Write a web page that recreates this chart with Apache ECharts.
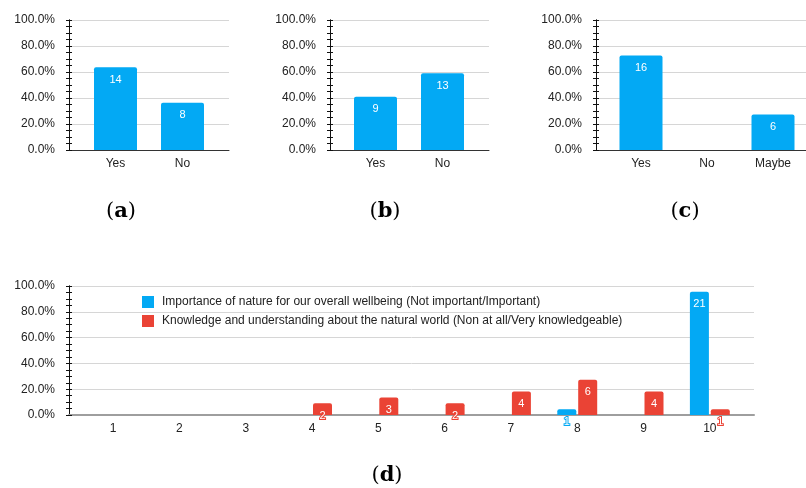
<!DOCTYPE html>
<html><head><meta charset="utf-8">
<script src="https://cdn.jsdelivr.net/npm/echarts@6/dist/echarts.min.js"></script>
<style>html,body{margin:0;padding:0;background:#fff}#c{width:806px;height:488px}</style>
</head><body><div id="c"></div>
<script>
// ---- data ----
const catsA = ['Yes', 'No'];
const countsA = [14, 8];
const catsB = ['Yes', 'No'];
const countsB = [9, 13];
const catsC = ['Yes', 'No', 'Maybe'];
const countsC = [16, 0, 6];
const catsD = ['1', '2', '3', '4', '5', '6', '7', '8', '9', '10'];
const nameWellbeing = 'Importance of nature for our overall wellbeing (Not important/Important)';
const nameKnowledge = 'Knowledge and understanding about the natural world (Non at all/Very knowledgeable)';
const wellbeingD = [0, 0, 0, 0, 0, 0, 0, 1, 0, 21];
const knowledgeD = [0, 0, 0, 2, 3, 2, 4, 6, 4, 1];
const yTickValues = [0, 20, 40, 60, 80, 100];
const captions = ['a', 'b', 'c', 'd'];

// ---- styling ----
const FONT = '"Liberation Sans", Arial, sans-serif';
const BLUE = '#03a9f4', RED = '#ea4335';
const grids = [], xAxes = [], yAxes = [], series = [];
const sum = a => a.reduce((s, v) => s + v, 0);
const pct = a => { const t = sum(a); return a.map(v => v / t * 100); };

function addPanel(p) {
  const gF = grids.length;
  grids.push({ left: p.fl, top: p.top, width: p.fw, height: p.h });
  const gB = grids.length;
  grids.push({ left: p.bl, top: p.top, width: p.bw, height: p.h });
  xAxes.push({ gridIndex: gF, type: 'category', data: [''], axisLine: { lineStyle: { color: p.baseColor, width: p.baseWidth } }, axisTick: { show: false }, axisLabel: { show: false } });
  const xB = xAxes.length;
  xAxes.push({ gridIndex: gB, type: 'category', data: p.cats, axisLine: { show: false }, axisTick: { show: false },
    axisLabel: { interval: 0, margin: 8, fontSize: 12, color: '#222', fontFamily: FONT } });
  yAxes.push({ gridIndex: gF, type: 'value', min: yTickValues[0], max: yTickValues[yTickValues.length - 1], interval: 20,
    axisLine: { show: false }, axisTick: { show: false },
    axisLabel: { formatter: v => v.toFixed(1) + '%', margin: 14, fontSize: 12, color: '#222', fontFamily: FONT },
    splitLine: { lineStyle: { color: '#d6d6d6', width: 1 } } });
  for (const inside of [false, true]) {
    yAxes.push({ gridIndex: gF, type: 'value', min: 0, max: 100, interval: 5, position: 'left',
      axisLine: { show: true, lineStyle: { color: '#111', width: 1 } },
      axisTick: { show: true, inside: inside, length: 3, lineStyle: { color: '#111' } },
      axisLabel: { show: false }, splitLine: { show: false } });
  }
  const yB = yAxes.length;
  yAxes.push({ gridIndex: gB, type: 'value', min: 0, max: 100, show: false });
  p.series.forEach(s => {
    series.push({ type: 'bar', name: s.name, xAxisIndex: xB, yAxisIndex: yB, data: pct(s.counts),
      barWidth: p.barWidth, barGap: p.barGap || '0%',
      itemStyle: { color: s.color, borderRadius: [2, 2, 0, 0] },
      label: { show: true, position: 'insideTop', distance: 7, color: '#fff', fontSize: 11, fontFamily: FONT,
        textBorderColor: s.color, textBorderWidth: 2,
        formatter: q => s.counts[q.dataIndex] ? String(s.counts[q.dataIndex]) : '' } });
  });
}

addPanel({ fl: 69, fw: 160, bl: 82, bw: 134, top: 20, h: 130, cats: catsA, baseColor: '#333', baseWidth: 1, barWidth: 43,
  series: [{ name: 'a', counts: countsA, color: BLUE }] });
addPanel({ fl: 330, fw: 159, bl: 342, bw: 134, top: 20, h: 130, cats: catsB, baseColor: '#333', baseWidth: 1, barWidth: 43,
  series: [{ name: 'b', counts: countsB, color: BLUE }] });
addPanel({ fl: 596, fw: 212, bl: 608, bw: 198, top: 20, h: 130, cats: catsC, baseColor: '#333', baseWidth: 1, barWidth: 43,
  series: [{ name: 'c', counts: countsC, color: BLUE }] });
addPanel({ fl: 69, fw: 685, bl: 80, bw: 663, top: 286, h: 129, cats: catsD, baseColor: '#9e9e9e', baseWidth: 2, barWidth: 19, barGap: '10%',
  series: [{ name: nameWellbeing, counts: wellbeingD, color: BLUE }, { name: nameKnowledge, counts: knowledgeD, color: RED }] });

const capPos = [[121, 212], [385, 212], [685, 212], [387, 476]];
const graphic = captions.map((c, i) => ({
  type: 'text', x: capPos[i][0], y: capPos[i][1],
  style: { text: '{p|(}{b|' + c + '}{p|)}', align: 'center', verticalAlign: 'middle', textAlign: 'center', textVerticalAlign: 'middle',
    rich: { p: { fontFamily: '"DejaVu Serif", serif', fontSize: 21, color: '#000' },
            b: { fontFamily: '"DejaVu Serif", serif', fontSize: 21, fontWeight: 'bold', color: '#000' } } }
}));

const chart = echarts.init(document.getElementById('c'), null, { renderer: 'canvas' });
chart.setOption({
  animation: false,
  grid: grids, xAxis: xAxes, yAxis: yAxes, series: series, graphic: graphic,
  legend: { data: [nameWellbeing, nameKnowledge], orient: 'vertical', left: 142, top: 296, padding: 0,
    itemWidth: 12, itemHeight: 12, itemGap: 7, icon: 'rect',
    textStyle: { fontSize: 12, color: '#222', fontFamily: FONT, padding: [0, 0, 0, 3] } }
});
</script></body></html>
